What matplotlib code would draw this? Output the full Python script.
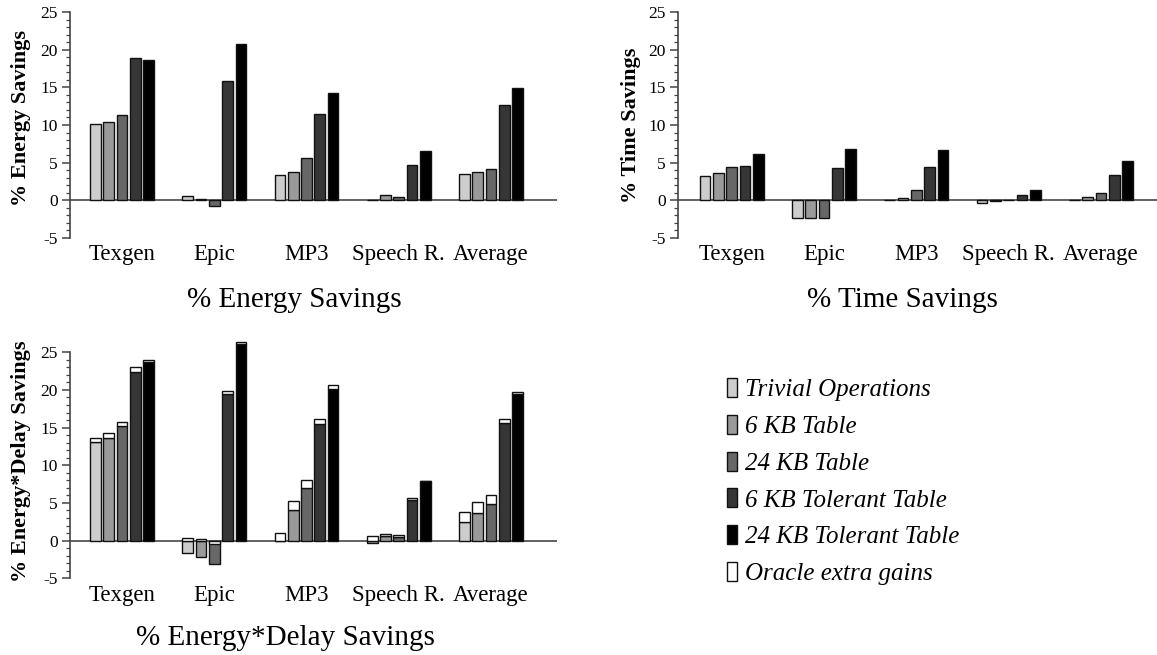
import numpy as np
import matplotlib
matplotlib.use("Agg")
import matplotlib.pyplot as plt
from matplotlib.patches import Patch
from matplotlib.ticker import FixedLocator

plt.rcParams['font.family'] = ['Liberation Serif', 'DejaVu Serif']

categories = ["Texgen", "Epic", "MP3", "Speech R.", "Average"]
series = ["Trivial Operations", "6 KB Table", "24 KB Table",
          "6 KB Tolerant Table", "24 KB Tolerant Table"]
oracle_label = "Oracle extra gains"
colors = ["#cdcdcd", "#9a9a9a", "#676767", "#363636", "#000000"]

# % Energy savings [category][series]
energy = [
    [10.1, 10.4, 11.3, 18.85, 18.6],
    [0.6, 0.2, -0.7, 15.85, 20.75],
    [3.3, 3.75, 5.65, 11.5, 14.3],
    [0.1, 0.7, 0.4, 4.7, 6.5],
    [3.5, 3.75, 4.2, 12.7, 14.85],
]
# % Time savings
time_sv = [
    [3.25, 3.6, 4.4, 4.55, 6.15],
    [-2.35, -2.35, -2.35, 4.25, 6.75],
    [0.0, 0.3, 1.4, 4.4, 6.65],
    [-0.35, -0.1, 0.1, 0.7, 1.4],
    [0.1, 0.4, 0.95, 3.3, 5.2],
]
# % Energy*Delay savings (base) and with oracle
ed_base = [
    [13.05, 13.65, 15.2, 22.4, 23.65],
    [-1.7, -2.15, -3.05, 19.4, 26.05],
    [0.0, 4.0, 7.0, 15.45, 20.1],
    [-0.3, 0.6, 0.45, 5.4, 7.9],
    [2.45, 3.65, 4.9, 15.6, 19.5],
]
ed_oracle = [
    [13.6, 14.3, 15.7, 23.0, 24.0],
    [0.3, 0.25, -0.5, 19.8, 26.3],
    [1.0, 5.2, 8.0, 16.1, 20.65],
    [0.55, 0.93, 0.8, 5.7, 7.9],
    [3.85, 5.15, 6.0, 16.1, 19.75],
]
yticks = [-5, 0, 5, 10, 15, 20, 25]

W, H = 1157, 655
fig = plt.figure(figsize=(W / 100, H / 100), dpi=100)


def add_ax(x0, x1, ytop, ybot):
    return fig.add_axes([x0 / W, 1 - ybot / H, (x1 - x0) / W, (ybot - ytop) / H])


x = np.arange(len(categories))
pitch = 0.1442
bw = 0.116
offs = (np.arange(len(series)) - 2) * pitch


def style(ax, xlim, ylim):
    ax.set_xlim(*xlim)
    ax.set_ylim(*ylim)
    for s in ["top", "right", "bottom"]:
        ax.spines[s].set_visible(False)
    ax.spines["left"].set_color("#444444")
    ax.spines["left"].set_linewidth(1.2)
    ax.spines["left"].set_bounds(yticks[0], yticks[-1])
    ax.axhline(0, color="#555555", lw=1.3, zorder=1)
    ax.set_yticks(yticks)
    ax.set_yticklabels([str(t) for t in yticks])
    ax.yaxis.set_minor_locator(FixedLocator(list(range(yticks[0], yticks[-1] + 1))))
    ax.tick_params(axis="y", which="major", length=6, width=1.1, color="#444444",
                   labelsize=12.5, pad=3)
    ax.tick_params(axis="y", which="minor", length=3, width=0.9, color="#444444")
    ax.set_xticks(x)
    ax.set_xticklabels(categories)
    ax.tick_params(axis="x", length=0, labelsize=16.5, pad=4.5)
    ax.patch.set_alpha(0)


def simple_bars(ax, data):
    arr = np.array(data)
    for j in range(len(series)):
        ax.bar(x + offs[j], arr[:, j], bw, color=colors[j], edgecolor="#111111",
               linewidth=1.0, zorder=2)


# Top-left: energy
ax1 = add_ax(70, 557, 12, 238)
simple_bars(ax1, energy)
style(ax1, (-0.564, 4.715), (-5, 25))

# Top-right: time
ax2 = add_ax(678.3, 1156.7, 12, 238)
simple_bars(ax2, time_sv)
style(ax2, (-0.579, 4.605), (-5, 25))

# Bottom-left: energy*delay
ax3 = add_ax(70, 557, 337.2, 578.3)
b = np.array(ed_base)
o = np.array(ed_oracle)
for j in range(len(series)):
    ax3.bar(x + offs[j], b[:, j], bw, color=colors[j], edgecolor="#111111",
            linewidth=1.0, zorder=2)
    bottom = np.maximum(b[:, j], 0)
    ax3.bar(x + offs[j], o[:, j] - bottom, bw, bottom=bottom, color="white",
            edgecolor="#111111", linewidth=1.0, zorder=3)
style(ax3, (-0.564, 4.715), (-5, 27))

# Y labels
fig.text(21 / W, 1 - 118 / H, "% Energy Savings", rotation=90, ha="center", va="center",
         fontsize=16, fontweight="bold")
fig.text(631 / W, 1 - 125 / H, "% Time Savings", rotation=90, ha="center", va="center",
         fontsize=16, fontweight="bold")
fig.text(21 / W, 1 - 461 / H, "% Energy*Delay Savings", rotation=90, ha="center",
         va="center", fontsize=16, fontweight="bold")

# Panel titles
fig.text(294 / W, 1 - 300 / H, "% Energy Savings", ha="center", va="center", fontsize=21)
fig.text(902 / W, 1 - 300 / H, "% Time Savings", ha="center", va="center", fontsize=21)
fig.text(285 / W, 1 - 638 / H, "% Energy*Delay Savings", ha="center", va="center",
         fontsize=21)

# Legend
handles = [Patch(facecolor=c, edgecolor="#111111", linewidth=1.0) for c in colors]
handles.append(Patch(facecolor="white", edgecolor="#111111", linewidth=1.0))
labels = series + [oracle_label]
leg = fig.legend(handles, labels, loc="upper left",
                 bbox_to_anchor=(726.5 / W, 1 - 378 / H), frameon=False,
                 prop={"family": "Liberation Serif", "style": "italic", "size": 18},
                 handlelength=0.43, handleheight=0.8, handletextpad=0.3,
                 labelspacing=0.54, borderpad=0, borderaxespad=0)

fig.savefig("out.png", dpi=100)
